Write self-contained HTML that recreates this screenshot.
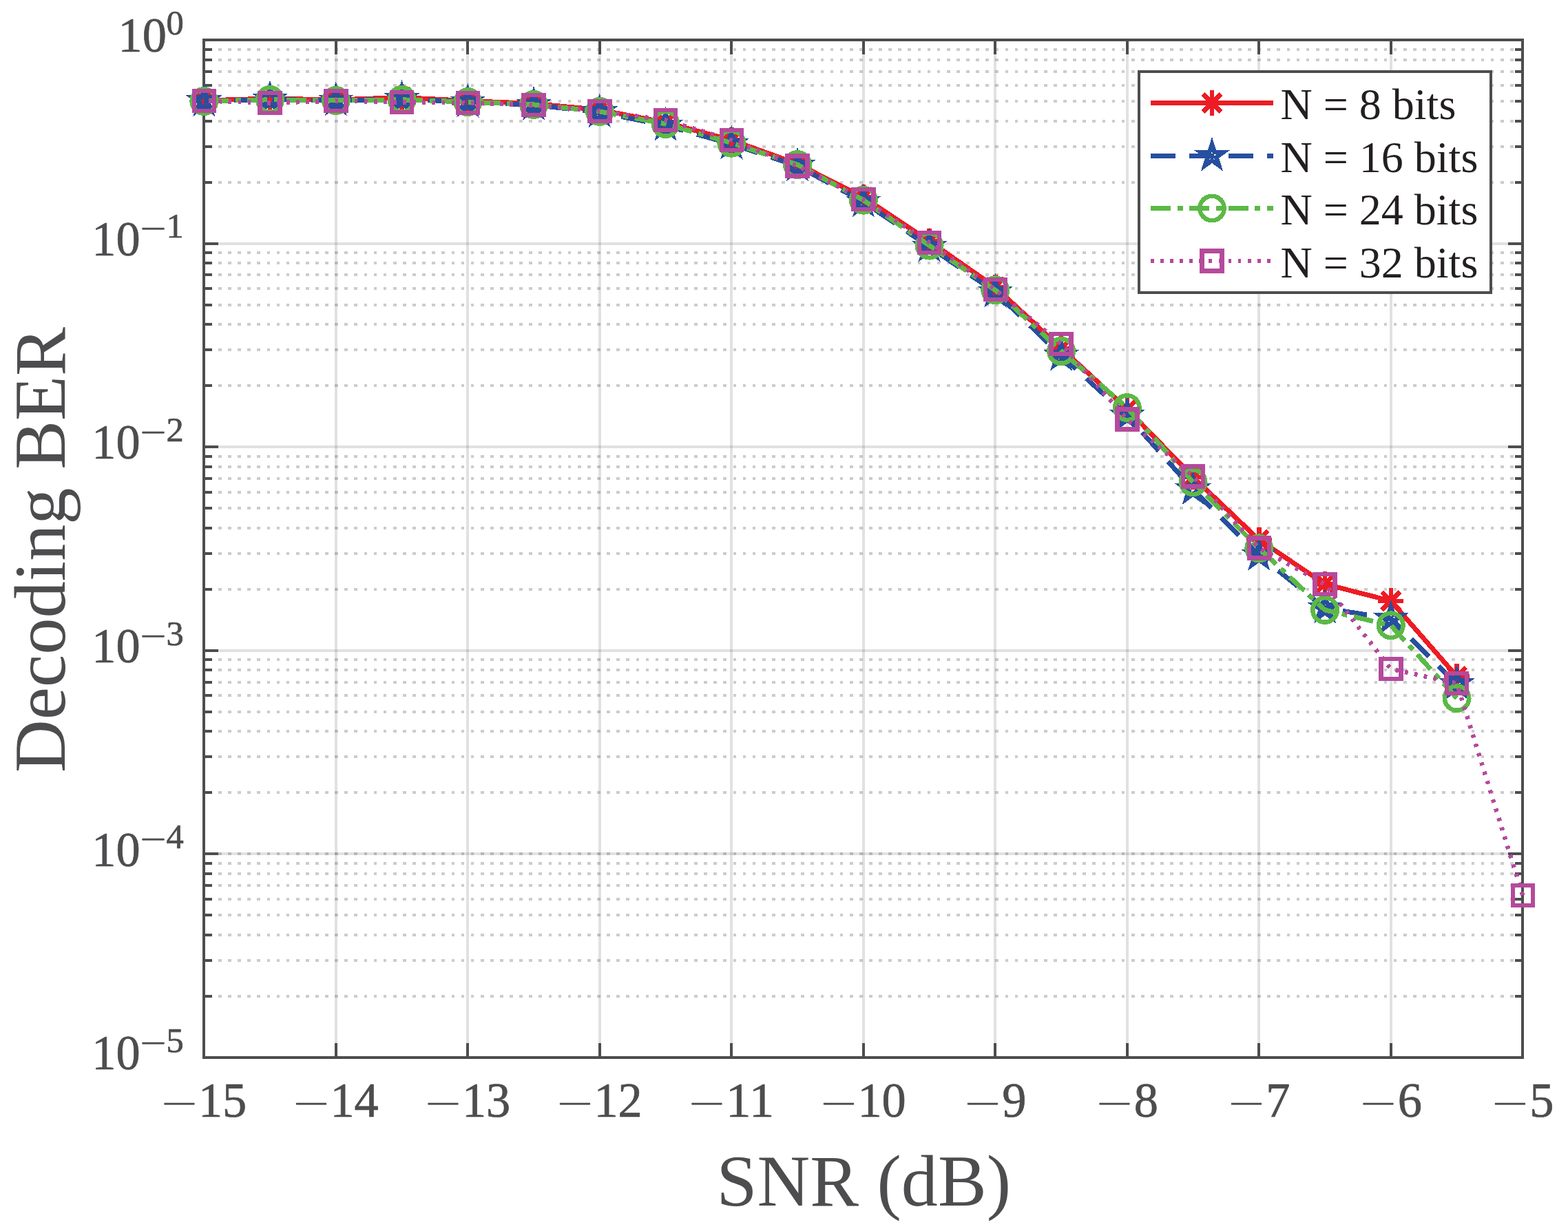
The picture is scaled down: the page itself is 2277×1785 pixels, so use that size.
<!DOCTYPE html>
<html lang="en"><head><meta charset="utf-8"><title>Decoding BER vs SNR</title>
<style>html,body{margin:0;padding:0;background:#fff;}body{width:2277px;height:1785px;overflow:hidden;}svg{display:block;}text{font-family:"Liberation Serif","DejaVu Serif",serif;}</style></head><body>
<svg width="2277" height="1785" viewBox="0 0 2277 1785" shape-rendering="crispEdges">
<rect x="0" y="0" width="2277" height="1785" fill="#fff"/>
<path d="M488.00 58.00V1536.00M679.00 58.00V1536.00M871.00 58.00V1536.00M1062.00 58.00V1536.00M1254.00 58.00V1536.00M1445.00 58.00V1536.00M1637.00 58.00V1536.00M1828.00 58.00V1536.00M2020.00 58.00V1536.00" stroke="rgba(77,77,82,0.168)" stroke-width="4" fill="none"/>
<path d="M296.00 354.00H2211.00M296.00 649.00H2211.00M296.00 945.00H2211.00M296.00 1240.00H2211.00" stroke="rgba(77,77,82,0.168)" stroke-width="4" fill="none"/>
<path d="M296.00 265.00H2211.00M296.00 213.00H2211.00M296.00 176.00H2211.00M296.00 147.00H2211.00M296.00 124.00H2211.00M296.00 104.00H2211.00M296.00 87.00H2211.00M296.00 72.00H2211.00M296.00 560.00H2211.00M296.00 508.00H2211.00M296.00 471.00H2211.00M296.00 443.00H2211.00M296.00 419.00H2211.00M296.00 399.00H2211.00M296.00 382.00H2211.00M296.00 367.00H2211.00M296.00 856.00H2211.00M296.00 804.00H2211.00M296.00 767.00H2211.00M296.00 738.00H2211.00M296.00 715.00H2211.00M296.00 695.00H2211.00M296.00 678.00H2211.00M296.00 663.00H2211.00M296.00 1151.00H2211.00M296.00 1099.00H2211.00M296.00 1062.00H2211.00M296.00 1034.00H2211.00M296.00 1010.00H2211.00M296.00 991.00H2211.00M296.00 973.00H2211.00M296.00 958.00H2211.00M296.00 1447.00H2211.00M296.00 1395.00H2211.00M296.00 1358.00H2211.00M296.00 1329.00H2211.00M296.00 1306.00H2211.00M296.00 1286.00H2211.00M296.00 1269.00H2211.00M296.00 1254.00H2211.00M296.00 1240.00H2211.00" stroke="rgba(77,77,82,0.285)" stroke-width="4" stroke-dasharray="4.7 9.405" stroke-dashoffset="7.2" fill="none"/>
<path d="M488.00 1536.00v-21.00M488.00 58.00v21.00M679.00 1536.00v-21.00M679.00 58.00v21.00M871.00 1536.00v-21.00M871.00 58.00v21.00M1062.00 1536.00v-21.00M1062.00 58.00v21.00M1254.00 1536.00v-21.00M1254.00 58.00v21.00M1445.00 1536.00v-21.00M1445.00 58.00v21.00M1637.00 1536.00v-21.00M1637.00 58.00v21.00M1828.00 1536.00v-21.00M1828.00 58.00v21.00M2020.00 1536.00v-21.00M2020.00 58.00v21.00M296.00 265.00h12.00M2211.00 265.00h-11.00M296.00 213.00h12.00M2211.00 213.00h-11.00M296.00 176.00h12.00M2211.00 176.00h-11.00M296.00 147.00h12.00M2211.00 147.00h-11.00M296.00 124.00h12.00M2211.00 124.00h-11.00M296.00 104.00h12.00M2211.00 104.00h-11.00M296.00 87.00h12.00M2211.00 87.00h-11.00M296.00 72.00h12.00M2211.00 72.00h-11.00M296.00 354.00h21.00M2211.00 354.00h-21.00M296.00 560.00h12.00M2211.00 560.00h-11.00M296.00 508.00h12.00M2211.00 508.00h-11.00M296.00 471.00h12.00M2211.00 471.00h-11.00M296.00 443.00h12.00M2211.00 443.00h-11.00M296.00 419.00h12.00M2211.00 419.00h-11.00M296.00 399.00h12.00M2211.00 399.00h-11.00M296.00 382.00h12.00M2211.00 382.00h-11.00M296.00 367.00h12.00M2211.00 367.00h-11.00M296.00 649.00h21.00M2211.00 649.00h-21.00M296.00 856.00h12.00M2211.00 856.00h-11.00M296.00 804.00h12.00M2211.00 804.00h-11.00M296.00 767.00h12.00M2211.00 767.00h-11.00M296.00 738.00h12.00M2211.00 738.00h-11.00M296.00 715.00h12.00M2211.00 715.00h-11.00M296.00 695.00h12.00M2211.00 695.00h-11.00M296.00 678.00h12.00M2211.00 678.00h-11.00M296.00 663.00h12.00M2211.00 663.00h-11.00M296.00 945.00h21.00M2211.00 945.00h-21.00M296.00 1151.00h12.00M2211.00 1151.00h-11.00M296.00 1099.00h12.00M2211.00 1099.00h-11.00M296.00 1062.00h12.00M2211.00 1062.00h-11.00M296.00 1034.00h12.00M2211.00 1034.00h-11.00M296.00 1010.00h12.00M2211.00 1010.00h-11.00M296.00 991.00h12.00M2211.00 991.00h-11.00M296.00 973.00h12.00M2211.00 973.00h-11.00M296.00 958.00h12.00M2211.00 958.00h-11.00M296.00 1240.00h21.00M2211.00 1240.00h-21.00M296.00 1447.00h12.00M2211.00 1447.00h-11.00M296.00 1395.00h12.00M2211.00 1395.00h-11.00M296.00 1358.00h12.00M2211.00 1358.00h-11.00M296.00 1329.00h12.00M2211.00 1329.00h-11.00M296.00 1306.00h12.00M2211.00 1306.00h-11.00M296.00 1286.00h12.00M2211.00 1286.00h-11.00M296.00 1269.00h12.00M2211.00 1269.00h-11.00M296.00 1254.00h12.00M2211.00 1254.00h-11.00" stroke="#4d4d4f" stroke-width="4" fill="none"/>
<rect x="296.00" y="58.00" width="1915.00" height="1478.00" fill="none" stroke="#4d4d4f" stroke-width="4"/>
<g>
<polyline points="296.30,146.0 392.05,143.0 487.80,145.0 583.55,141.5 679.30,146.5 775.05,150.5 870.80,159.5 966.55,178.0 1062.30,203.5 1158.05,238.0 1253.80,286.5 1349.55,350.4 1445.30,417.0 1541.05,506.0 1636.80,594.0 1732.55,693.0 1828.30,784.0 1924.05,848.3 2019.80,872.8 2115.55,982.5" fill="none" stroke="#ed1c24" stroke-width="7.0" stroke-linejoin="round"/>
<path d="M296.30 127.60V164.40M277.90 146.00H314.70M283.29 132.99L309.31 159.01M283.29 159.01L309.31 132.99" stroke="#ed1c24" stroke-width="6.5" fill="none"/>
<path d="M392.05 124.60V161.40M373.65 143.00H410.45M379.04 129.99L405.06 156.01M379.04 156.01L405.06 129.99" stroke="#ed1c24" stroke-width="6.5" fill="none"/>
<path d="M487.80 126.60V163.40M469.40 145.00H506.20M474.79 131.99L500.81 158.01M474.79 158.01L500.81 131.99" stroke="#ed1c24" stroke-width="6.5" fill="none"/>
<path d="M583.55 123.10V159.90M565.15 141.50H601.95M570.54 128.49L596.56 154.51M570.54 154.51L596.56 128.49" stroke="#ed1c24" stroke-width="6.5" fill="none"/>
<path d="M679.30 128.10V164.90M660.90 146.50H697.70M666.29 133.49L692.31 159.51M666.29 159.51L692.31 133.49" stroke="#ed1c24" stroke-width="6.5" fill="none"/>
<path d="M775.05 132.10V168.90M756.65 150.50H793.45M762.04 137.49L788.06 163.51M762.04 163.51L788.06 137.49" stroke="#ed1c24" stroke-width="6.5" fill="none"/>
<path d="M870.80 141.10V177.90M852.40 159.50H889.20M857.79 146.49L883.81 172.51M857.79 172.51L883.81 146.49" stroke="#ed1c24" stroke-width="6.5" fill="none"/>
<path d="M966.55 159.60V196.40M948.15 178.00H984.95M953.54 164.99L979.56 191.01M953.54 191.01L979.56 164.99" stroke="#ed1c24" stroke-width="6.5" fill="none"/>
<path d="M1062.30 185.10V221.90M1043.90 203.50H1080.70M1049.29 190.49L1075.31 216.51M1049.29 216.51L1075.31 190.49" stroke="#ed1c24" stroke-width="6.5" fill="none"/>
<path d="M1158.05 219.60V256.40M1139.65 238.00H1176.45M1145.04 224.99L1171.06 251.01M1145.04 251.01L1171.06 224.99" stroke="#ed1c24" stroke-width="6.5" fill="none"/>
<path d="M1253.80 268.10V304.90M1235.40 286.50H1272.20M1240.79 273.49L1266.81 299.51M1240.79 299.51L1266.81 273.49" stroke="#ed1c24" stroke-width="6.5" fill="none"/>
<path d="M1349.55 332.00V368.80M1331.15 350.40H1367.95M1336.54 337.39L1362.56 363.41M1336.54 363.41L1362.56 337.39" stroke="#ed1c24" stroke-width="6.5" fill="none"/>
<path d="M1445.30 398.60V435.40M1426.90 417.00H1463.70M1432.29 403.99L1458.31 430.01M1432.29 430.01L1458.31 403.99" stroke="#ed1c24" stroke-width="6.5" fill="none"/>
<path d="M1541.05 487.60V524.40M1522.65 506.00H1559.45M1528.04 492.99L1554.06 519.01M1528.04 519.01L1554.06 492.99" stroke="#ed1c24" stroke-width="6.5" fill="none"/>
<path d="M1636.80 575.60V612.40M1618.40 594.00H1655.20M1623.79 580.99L1649.81 607.01M1623.79 607.01L1649.81 580.99" stroke="#ed1c24" stroke-width="6.5" fill="none"/>
<path d="M1732.55 674.60V711.40M1714.15 693.00H1750.95M1719.54 679.99L1745.56 706.01M1719.54 706.01L1745.56 679.99" stroke="#ed1c24" stroke-width="6.5" fill="none"/>
<path d="M1828.30 765.60V802.40M1809.90 784.00H1846.70M1815.29 770.99L1841.31 797.01M1815.29 797.01L1841.31 770.99" stroke="#ed1c24" stroke-width="6.5" fill="none"/>
<path d="M1924.05 829.90V866.70M1905.65 848.30H1942.45M1911.04 835.29L1937.06 861.31M1911.04 861.31L1937.06 835.29" stroke="#ed1c24" stroke-width="6.5" fill="none"/>
<path d="M2019.80 854.40V891.20M2001.40 872.80H2038.20M2006.79 859.79L2032.81 885.81M2006.79 885.81L2032.81 859.79" stroke="#ed1c24" stroke-width="6.5" fill="none"/>
<path d="M2115.55 964.10V1000.90M2097.15 982.50H2133.95M2102.54 969.49L2128.56 995.51M2102.54 995.51L2128.56 969.49" stroke="#ed1c24" stroke-width="6.5" fill="none"/>
</g>
<g>
<polyline points="296.30,147.0 392.05,144.3 487.80,146.1 583.55,143.6 679.30,148.2 775.05,152.4 870.80,163.0 966.55,182.3 1062.30,209.2 1158.05,241.0 1253.80,293.2 1349.55,358.4 1445.30,424.2 1541.05,516.5 1636.80,603.5 1732.55,711.0 1828.30,806.5 1924.05,883.3 2019.80,898.5 2115.55,993.7" fill="none" stroke="#274f9f" stroke-width="7.0" stroke-linejoin="round" stroke-dasharray="36 20.4" stroke-dashoffset="13"/>
<polygon points="296.30,129.92 300.14,141.72 312.55,141.72 302.51,149.02 306.34,160.82 296.30,153.53 286.26,160.82 290.09,149.02 280.05,141.72 292.46,141.72" fill="none" stroke="#274f9f" stroke-width="6.5" stroke-linejoin="miter" stroke-miterlimit="10"/>
<polygon points="392.05,127.22 395.89,139.02 408.30,139.02 398.26,146.32 402.09,158.12 392.05,150.83 382.01,158.12 385.84,146.32 375.80,139.02 388.21,139.02" fill="none" stroke="#274f9f" stroke-width="6.5" stroke-linejoin="miter" stroke-miterlimit="10"/>
<polygon points="487.80,129.02 491.64,140.82 504.05,140.82 494.01,148.12 497.84,159.92 487.80,152.63 477.76,159.92 481.59,148.12 471.55,140.82 483.96,140.82" fill="none" stroke="#274f9f" stroke-width="6.5" stroke-linejoin="miter" stroke-miterlimit="10"/>
<polygon points="583.55,126.52 587.39,138.32 599.80,138.32 589.76,145.62 593.59,157.42 583.55,150.13 573.51,157.42 577.34,145.62 567.30,138.32 579.71,138.32" fill="none" stroke="#274f9f" stroke-width="6.5" stroke-linejoin="miter" stroke-miterlimit="10"/>
<polygon points="679.30,131.12 683.14,142.92 695.55,142.92 685.51,150.22 689.34,162.02 679.30,154.73 669.26,162.02 673.09,150.22 663.05,142.92 675.46,142.92" fill="none" stroke="#274f9f" stroke-width="6.5" stroke-linejoin="miter" stroke-miterlimit="10"/>
<polygon points="775.05,135.32 778.89,147.12 791.30,147.12 781.26,154.42 785.09,166.22 775.05,158.93 765.01,166.22 768.84,154.42 758.80,147.12 771.21,147.12" fill="none" stroke="#274f9f" stroke-width="6.5" stroke-linejoin="miter" stroke-miterlimit="10"/>
<polygon points="870.80,145.92 874.64,157.72 887.05,157.72 877.01,165.02 880.84,176.82 870.80,169.53 860.76,176.82 864.59,165.02 854.55,157.72 866.96,157.72" fill="none" stroke="#274f9f" stroke-width="6.5" stroke-linejoin="miter" stroke-miterlimit="10"/>
<polygon points="966.55,165.22 970.39,177.02 982.80,177.02 972.76,184.32 976.59,196.12 966.55,188.83 956.51,196.12 960.34,184.32 950.30,177.02 962.71,177.02" fill="none" stroke="#274f9f" stroke-width="6.5" stroke-linejoin="miter" stroke-miterlimit="10"/>
<polygon points="1062.30,192.12 1066.14,203.92 1078.55,203.92 1068.51,211.22 1072.34,223.02 1062.30,215.73 1052.26,223.02 1056.09,211.22 1046.05,203.92 1058.46,203.92" fill="none" stroke="#274f9f" stroke-width="6.5" stroke-linejoin="miter" stroke-miterlimit="10"/>
<polygon points="1158.05,223.92 1161.89,235.72 1174.30,235.72 1164.26,243.02 1168.09,254.82 1158.05,247.53 1148.01,254.82 1151.84,243.02 1141.80,235.72 1154.21,235.72" fill="none" stroke="#274f9f" stroke-width="6.5" stroke-linejoin="miter" stroke-miterlimit="10"/>
<polygon points="1253.80,276.12 1257.64,287.92 1270.05,287.92 1260.01,295.22 1263.84,307.02 1253.80,299.73 1243.76,307.02 1247.59,295.22 1237.55,287.92 1249.96,287.92" fill="none" stroke="#274f9f" stroke-width="6.5" stroke-linejoin="miter" stroke-miterlimit="10"/>
<polygon points="1349.55,341.32 1353.39,353.12 1365.80,353.12 1355.76,360.42 1359.59,372.22 1349.55,364.93 1339.51,372.22 1343.34,360.42 1333.30,353.12 1345.71,353.12" fill="none" stroke="#274f9f" stroke-width="6.5" stroke-linejoin="miter" stroke-miterlimit="10"/>
<polygon points="1445.30,407.12 1449.14,418.92 1461.55,418.92 1451.51,426.22 1455.34,438.02 1445.30,430.73 1435.26,438.02 1439.09,426.22 1429.05,418.92 1441.46,418.92" fill="none" stroke="#274f9f" stroke-width="6.5" stroke-linejoin="miter" stroke-miterlimit="10"/>
<polygon points="1541.05,499.42 1544.89,511.22 1557.30,511.22 1547.26,518.52 1551.09,530.32 1541.05,523.03 1531.01,530.32 1534.84,518.52 1524.80,511.22 1537.21,511.22" fill="none" stroke="#274f9f" stroke-width="6.5" stroke-linejoin="miter" stroke-miterlimit="10"/>
<polygon points="1636.80,586.42 1640.64,598.22 1653.05,598.22 1643.01,605.52 1646.84,617.32 1636.80,610.03 1626.76,617.32 1630.59,605.52 1620.55,598.22 1632.96,598.22" fill="none" stroke="#274f9f" stroke-width="6.5" stroke-linejoin="miter" stroke-miterlimit="10"/>
<polygon points="1732.55,693.92 1736.39,705.72 1748.80,705.72 1738.76,713.02 1742.59,724.82 1732.55,717.53 1722.51,724.82 1726.34,713.02 1716.30,705.72 1728.71,705.72" fill="none" stroke="#274f9f" stroke-width="6.5" stroke-linejoin="miter" stroke-miterlimit="10"/>
<polygon points="1828.30,789.42 1832.14,801.22 1844.55,801.22 1834.51,808.52 1838.34,820.32 1828.30,813.03 1818.26,820.32 1822.09,808.52 1812.05,801.22 1824.46,801.22" fill="none" stroke="#274f9f" stroke-width="6.5" stroke-linejoin="miter" stroke-miterlimit="10"/>
<polygon points="1924.05,866.22 1927.89,878.02 1940.30,878.02 1930.26,885.32 1934.09,897.12 1924.05,889.83 1914.01,897.12 1917.84,885.32 1907.80,878.02 1920.21,878.02" fill="none" stroke="#274f9f" stroke-width="6.5" stroke-linejoin="miter" stroke-miterlimit="10"/>
<polygon points="2019.80,881.42 2023.64,893.22 2036.05,893.22 2026.01,900.52 2029.84,912.32 2019.80,905.03 2009.76,912.32 2013.59,900.52 2003.55,893.22 2015.96,893.22" fill="none" stroke="#274f9f" stroke-width="6.5" stroke-linejoin="miter" stroke-miterlimit="10"/>
<polygon points="2115.55,976.62 2119.39,988.42 2131.80,988.42 2121.76,995.72 2125.59,1007.52 2115.55,1000.23 2105.51,1007.52 2109.34,995.72 2099.30,988.42 2111.71,988.42" fill="none" stroke="#274f9f" stroke-width="6.5" stroke-linejoin="miter" stroke-miterlimit="10"/>
</g>
<g>
<polyline points="296.30,147.0 392.05,144.8 487.80,146.0 583.55,144.8 679.30,148.1 775.05,151.9 870.80,161.9 966.55,179.9 1062.30,207.7 1158.05,239.1 1253.80,290.7 1349.55,356.6 1445.30,421.3 1541.05,510.0 1636.80,592.2 1732.55,700.2 1828.30,796.4 1924.05,885.9 2019.80,908.3 2115.55,1014.0" fill="none" stroke="#5cb946" stroke-width="7.0" stroke-linejoin="round" stroke-dasharray="29 9.7 8 9.7" stroke-dashoffset="49.7"/>
<circle cx="296.30" cy="147.00" r="17.75" fill="none" stroke="#5cb946" stroke-width="6.5"/>
<circle cx="392.05" cy="144.80" r="17.75" fill="none" stroke="#5cb946" stroke-width="6.5"/>
<circle cx="487.80" cy="146.00" r="17.75" fill="none" stroke="#5cb946" stroke-width="6.5"/>
<circle cx="583.55" cy="144.80" r="17.75" fill="none" stroke="#5cb946" stroke-width="6.5"/>
<circle cx="679.30" cy="148.10" r="17.75" fill="none" stroke="#5cb946" stroke-width="6.5"/>
<circle cx="775.05" cy="151.90" r="17.75" fill="none" stroke="#5cb946" stroke-width="6.5"/>
<circle cx="870.80" cy="161.90" r="17.75" fill="none" stroke="#5cb946" stroke-width="6.5"/>
<circle cx="966.55" cy="179.90" r="17.75" fill="none" stroke="#5cb946" stroke-width="6.5"/>
<circle cx="1062.30" cy="207.70" r="17.75" fill="none" stroke="#5cb946" stroke-width="6.5"/>
<circle cx="1158.05" cy="239.10" r="17.75" fill="none" stroke="#5cb946" stroke-width="6.5"/>
<circle cx="1253.80" cy="290.70" r="17.75" fill="none" stroke="#5cb946" stroke-width="6.5"/>
<circle cx="1349.55" cy="356.60" r="17.75" fill="none" stroke="#5cb946" stroke-width="6.5"/>
<circle cx="1445.30" cy="421.30" r="17.75" fill="none" stroke="#5cb946" stroke-width="6.5"/>
<circle cx="1541.05" cy="510.00" r="17.75" fill="none" stroke="#5cb946" stroke-width="6.5"/>
<circle cx="1636.80" cy="592.20" r="17.75" fill="none" stroke="#5cb946" stroke-width="6.5"/>
<circle cx="1732.55" cy="700.20" r="17.75" fill="none" stroke="#5cb946" stroke-width="6.5"/>
<circle cx="1828.30" cy="796.40" r="17.75" fill="none" stroke="#5cb946" stroke-width="6.5"/>
<circle cx="1924.05" cy="885.90" r="17.75" fill="none" stroke="#5cb946" stroke-width="6.5"/>
<circle cx="2019.80" cy="908.30" r="17.75" fill="none" stroke="#5cb946" stroke-width="6.5"/>
<circle cx="2115.55" cy="1014.00" r="17.75" fill="none" stroke="#5cb946" stroke-width="6.5"/>
</g>
<g>
<polyline points="296.30,146.5 392.05,149.5 487.80,146.5 583.55,148.5 679.30,149.5 775.05,152.7 870.80,161.4 966.55,174.4 1062.30,203.6 1158.05,241.1 1253.80,289.5 1349.55,352.4 1445.30,420.6 1541.05,499.6 1636.80,609.2 1732.55,691.8 1828.30,795.8 1924.05,848.5 2019.80,971.5 2115.55,992.6 2211.30,1300.4" fill="none" stroke="#b54a9c" stroke-width="6.5" stroke-linejoin="round" stroke-dasharray="4.7 9.4" stroke-dashoffset="7.05"/>
<rect x="281.80" y="132.00" width="29.00" height="29.00" fill="none" stroke="#b54a9c" stroke-width="6.5"/>
<rect x="377.55" y="135.00" width="29.00" height="29.00" fill="none" stroke="#b54a9c" stroke-width="6.5"/>
<rect x="473.30" y="132.00" width="29.00" height="29.00" fill="none" stroke="#b54a9c" stroke-width="6.5"/>
<rect x="569.05" y="134.00" width="29.00" height="29.00" fill="none" stroke="#b54a9c" stroke-width="6.5"/>
<rect x="664.80" y="135.00" width="29.00" height="29.00" fill="none" stroke="#b54a9c" stroke-width="6.5"/>
<rect x="760.55" y="138.20" width="29.00" height="29.00" fill="none" stroke="#b54a9c" stroke-width="6.5"/>
<rect x="856.30" y="146.90" width="29.00" height="29.00" fill="none" stroke="#b54a9c" stroke-width="6.5"/>
<rect x="952.05" y="159.90" width="29.00" height="29.00" fill="none" stroke="#b54a9c" stroke-width="6.5"/>
<rect x="1047.80" y="189.10" width="29.00" height="29.00" fill="none" stroke="#b54a9c" stroke-width="6.5"/>
<rect x="1143.55" y="226.60" width="29.00" height="29.00" fill="none" stroke="#b54a9c" stroke-width="6.5"/>
<rect x="1239.30" y="275.00" width="29.00" height="29.00" fill="none" stroke="#b54a9c" stroke-width="6.5"/>
<rect x="1335.05" y="337.90" width="29.00" height="29.00" fill="none" stroke="#b54a9c" stroke-width="6.5"/>
<rect x="1430.80" y="406.10" width="29.00" height="29.00" fill="none" stroke="#b54a9c" stroke-width="6.5"/>
<rect x="1526.55" y="485.10" width="29.00" height="29.00" fill="none" stroke="#b54a9c" stroke-width="6.5"/>
<rect x="1622.30" y="594.70" width="29.00" height="29.00" fill="none" stroke="#b54a9c" stroke-width="6.5"/>
<rect x="1718.05" y="677.30" width="29.00" height="29.00" fill="none" stroke="#b54a9c" stroke-width="6.5"/>
<rect x="1813.80" y="781.30" width="29.00" height="29.00" fill="none" stroke="#b54a9c" stroke-width="6.5"/>
<rect x="1909.55" y="834.00" width="29.00" height="29.00" fill="none" stroke="#b54a9c" stroke-width="6.5"/>
<rect x="2005.30" y="957.00" width="29.00" height="29.00" fill="none" stroke="#b54a9c" stroke-width="6.5"/>
<rect x="2101.05" y="978.10" width="29.00" height="29.00" fill="none" stroke="#b54a9c" stroke-width="6.5"/>
<rect x="2196.80" y="1285.90" width="29.00" height="29.00" fill="none" stroke="#b54a9c" stroke-width="6.5"/>
</g>
<g fill="#4d4d4f" stroke="#4d4d4f" stroke-width="0.70" stroke-linejoin="round">
<text><tspan x="234.75" y="1618.20" font-size="44.0" textLength="51.80" lengthAdjust="spacingAndGlyphs">−</tspan><tspan x="287.90" y="1621.60" font-size="71.3" textLength="70.42" lengthAdjust="spacingAndGlyphs">15</tspan></text>
<text><tspan x="426.25" y="1618.20" font-size="44.0" textLength="51.80" lengthAdjust="spacingAndGlyphs">−</tspan><tspan x="479.40" y="1621.60" font-size="71.3" textLength="70.42" lengthAdjust="spacingAndGlyphs">14</tspan></text>
<text><tspan x="617.75" y="1618.20" font-size="44.0" textLength="51.80" lengthAdjust="spacingAndGlyphs">−</tspan><tspan x="670.90" y="1621.60" font-size="71.3" textLength="70.42" lengthAdjust="spacingAndGlyphs">13</tspan></text>
<text><tspan x="809.25" y="1618.20" font-size="44.0" textLength="51.80" lengthAdjust="spacingAndGlyphs">−</tspan><tspan x="862.40" y="1621.60" font-size="71.3" textLength="70.42" lengthAdjust="spacingAndGlyphs">12</tspan></text>
<text><tspan x="1000.75" y="1618.20" font-size="44.0" textLength="51.80" lengthAdjust="spacingAndGlyphs">−</tspan><tspan x="1053.90" y="1621.60" font-size="71.3" textLength="70.42" lengthAdjust="spacingAndGlyphs">11</tspan></text>
<text><tspan x="1192.25" y="1618.20" font-size="44.0" textLength="51.80" lengthAdjust="spacingAndGlyphs">−</tspan><tspan x="1245.40" y="1621.60" font-size="71.3" textLength="70.42" lengthAdjust="spacingAndGlyphs">10</tspan></text>
<text><tspan x="1401.25" y="1618.20" font-size="44.0" textLength="51.80" lengthAdjust="spacingAndGlyphs">−</tspan><tspan x="1455.20" y="1621.60" font-size="71.3" textLength="35.21" lengthAdjust="spacingAndGlyphs">9</tspan></text>
<text><tspan x="1592.75" y="1618.20" font-size="44.0" textLength="51.80" lengthAdjust="spacingAndGlyphs">−</tspan><tspan x="1646.70" y="1621.60" font-size="71.3" textLength="35.21" lengthAdjust="spacingAndGlyphs">8</tspan></text>
<text><tspan x="1784.25" y="1618.20" font-size="44.0" textLength="51.80" lengthAdjust="spacingAndGlyphs">−</tspan><tspan x="1838.20" y="1621.60" font-size="71.3" textLength="35.21" lengthAdjust="spacingAndGlyphs">7</tspan></text>
<text><tspan x="1975.75" y="1618.20" font-size="44.0" textLength="51.80" lengthAdjust="spacingAndGlyphs">−</tspan><tspan x="2029.70" y="1621.60" font-size="71.3" textLength="35.21" lengthAdjust="spacingAndGlyphs">6</tspan></text>
<text><tspan x="2167.25" y="1618.20" font-size="44.0" textLength="51.80" lengthAdjust="spacingAndGlyphs">−</tspan><tspan x="2221.20" y="1621.60" font-size="71.3" textLength="35.21" lengthAdjust="spacingAndGlyphs">5</tspan></text>
<text><tspan x="171.50" y="75.20" font-size="71.3" textLength="70.42" lengthAdjust="spacingAndGlyphs">10</tspan><tspan x="241.60" y="49.70" font-size="51.2" textLength="25.28" lengthAdjust="spacingAndGlyphs">0</tspan></text>
<text><tspan x="133.30" y="370.80" font-size="71.3" textLength="70.42" lengthAdjust="spacingAndGlyphs">10</tspan><tspan x="203.80" y="347.30" font-size="44.0" textLength="37.80" lengthAdjust="spacingAndGlyphs">−</tspan><tspan x="241.60" y="345.30" font-size="51.2" textLength="25.28" lengthAdjust="spacingAndGlyphs">1</tspan></text>
<text><tspan x="133.30" y="666.40" font-size="71.3" textLength="70.42" lengthAdjust="spacingAndGlyphs">10</tspan><tspan x="203.80" y="642.90" font-size="44.0" textLength="37.80" lengthAdjust="spacingAndGlyphs">−</tspan><tspan x="241.60" y="640.90" font-size="51.2" textLength="25.28" lengthAdjust="spacingAndGlyphs">2</tspan></text>
<text><tspan x="133.30" y="962.00" font-size="71.3" textLength="70.42" lengthAdjust="spacingAndGlyphs">10</tspan><tspan x="203.80" y="938.50" font-size="44.0" textLength="37.80" lengthAdjust="spacingAndGlyphs">−</tspan><tspan x="241.60" y="936.50" font-size="51.2" textLength="25.28" lengthAdjust="spacingAndGlyphs">3</tspan></text>
<text><tspan x="133.30" y="1257.60" font-size="71.3" textLength="70.42" lengthAdjust="spacingAndGlyphs">10</tspan><tspan x="203.80" y="1234.10" font-size="44.0" textLength="37.80" lengthAdjust="spacingAndGlyphs">−</tspan><tspan x="241.60" y="1232.10" font-size="51.2" textLength="25.28" lengthAdjust="spacingAndGlyphs">4</tspan></text>
<text><tspan x="133.30" y="1553.20" font-size="71.3" textLength="70.42" lengthAdjust="spacingAndGlyphs">10</tspan><tspan x="203.80" y="1529.70" font-size="44.0" textLength="37.80" lengthAdjust="spacingAndGlyphs">−</tspan><tspan x="241.60" y="1527.70" font-size="51.2" textLength="25.28" lengthAdjust="spacingAndGlyphs">5</tspan></text>
</g>
<text x="1254.3" y="1751" font-size="106.1" fill="#4d4d4f" text-anchor="middle">SNR (dB)</text>
<text transform="translate(93.6 798.5) rotate(-90)" font-size="106.4" fill="#4d4d4f" text-anchor="middle">Decoding BER</text>
<rect x="1654" y="104" width="511" height="321" fill="#fff" stroke="#4d4d4f" stroke-width="4"/>
<line x1="1670.8" y1="149.5" x2="1849" y2="149.5" stroke="#ed1c24" stroke-width="7.0"/>
<path d="M1760.00 131.10V167.90M1741.60 149.50H1778.40M1746.99 136.49L1773.01 162.51M1746.99 162.51L1773.01 136.49" stroke="#ed1c24" stroke-width="6.5" fill="none"/>
<text x="1859.5" y="173.2" font-size="64" fill="#231f20">N = 8 bits</text>
<line x1="1670.8" y1="226.5" x2="1849" y2="226.5" stroke="#274f9f" stroke-width="7.0" stroke-dasharray="36 20.4"/>
<polygon points="1760.00,209.42 1763.84,221.22 1776.25,221.22 1766.21,228.52 1770.04,240.32 1760.00,233.03 1749.96,240.32 1753.79,228.52 1743.75,221.22 1756.16,221.22" fill="none" stroke="#274f9f" stroke-width="6.5" stroke-linejoin="miter" stroke-miterlimit="10"/>
<text x="1859.5" y="250.2" font-size="64" fill="#231f20">N = 16 bits</text>
<line x1="1670.8" y1="302.5" x2="1849" y2="302.5" stroke="#5cb946" stroke-width="7.0" stroke-dasharray="29 9.7 8 9.7"/>
<circle cx="1760.00" cy="302.50" r="17.75" fill="none" stroke="#5cb946" stroke-width="6.5"/>
<text x="1859.5" y="326.2" font-size="64" fill="#231f20">N = 24 bits</text>
<line x1="1670.8" y1="379.0" x2="1849" y2="379.0" stroke="#b54a9c" stroke-width="6.0" stroke-dasharray="4.7 9.4"/>
<rect x="1745.50" y="364.50" width="29.00" height="29.00" fill="none" stroke="#b54a9c" stroke-width="6.5"/>
<text x="1859.5" y="402.7" font-size="64" fill="#231f20">N = 32 bits</text>
</svg></body></html>
